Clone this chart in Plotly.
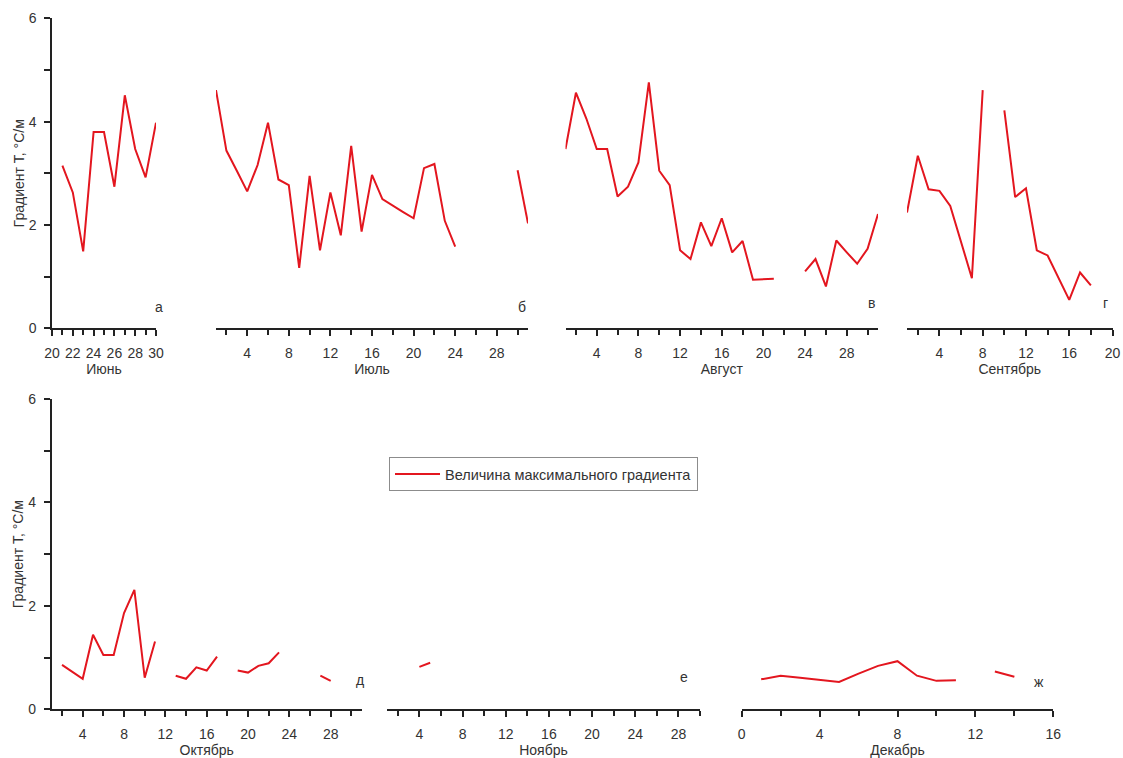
import plotly.graph_objects as go

# ---- data ----
jun_days = [21, 22, 23, 24, 25, 26, 27, 28, 29, 30]
jun_vals = [3.15, 2.63, 1.49, 3.80, 3.80, 2.74, 4.51, 3.47, 2.92, 3.98]

jul_days = list(range(1, 32))
jul_vals = [4.61, 3.44, 3.05, 2.65, 3.16, 3.98, 2.88, 2.77, 1.17, 2.95,
            1.51, 2.63, 1.80, 3.53, 1.87, 2.97, 2.50, 2.37, 2.25, 2.13,
            3.10, 3.18, 2.08, 1.58, None, None, None, None, None, 3.06, 2.03]

aug_days = list(range(1, 32))
aug_vals = [3.47, 4.56, 4.06, 3.47, 3.47, 2.55, 2.74, 3.21, 4.76, 3.05,
            2.77, 1.51, 1.34, 2.05, 1.59, 2.13, 1.47, 1.69, 0.94, 0.95,
            0.96, None, None, 1.10, 1.34, 0.81, 1.70, 1.47, 1.25, 1.54, 2.21]

sep_days = list(range(1, 19))
sep_vals = [2.24, 3.34, 2.69, 2.66, 2.37, 1.68, 0.97, 4.61, None, 4.22,
            2.54, 2.71, 1.51, 1.41, 0.97, 0.55, 1.08, 0.83]

oct_days = list(range(2, 29))
oct_vals = [0.86, 0.72, 0.59, 1.44, 1.05, 1.05, 1.86, 2.31, 0.61, 1.31,
            None, 0.65, 0.59, 0.81, 0.75, 1.02, None, 0.75, 0.71, 0.84,
            0.89, 1.10, None, None, None, 0.65, 0.55]

nov_days = [4, 5]
nov_vals = [0.82, 0.90]

dec_days = list(range(1, 15))
dec_vals = [0.58, 0.65, 0.61, 0.57, 0.53, 0.69, 0.84, 0.93, 0.65, 0.55,
            0.56, None, 0.73, 0.63]

months = ["Июнь", "Июль", "Август", "Сентябрь", "Октябрь", "Ноябрь", "Декабрь"]
letters = ["а", "б", "в", "г", "д", "е", "ж"]
y_title = "Градиент Т, °С/м"
legend_name = "Величина максимального градиента"

# ---- layout geometry (page pixels) ----
W, H = 1123, 758
FONT = "Liberation Sans, Arial, sans-serif"
FS = 14
TXT = "#333333"
RED = "#e3161f"
AX = "#222222"


def px(p):
    return p / W


def py(p):
    return 1 - p / H


panels = [
    # days, vals, px_left, px_right, range, dtick, minor, row
    (jun_days, jun_vals, 52, 156, [20, 30], 2, 1, 0),
    (jul_days, jul_vals, 216, 528, [1, 31], 4, 2, 0),
    (aug_days, aug_vals, 565.5, 878, [1, 31], 4, 2, 0),
    (sep_days, sep_vals, 907, 1112.5, [1, 20], 4, 2, 0),
    (oct_days, oct_vals, 51.7, 361.7, [1, 31], 4, 2, 1),
    (nov_days, nov_vals, 387, 700, [1, 30], 4, 2, 1),
    (dec_days, dec_vals, 741.7, 1053.3, [0, 16], 4, 2, 1),
]
row_px = [(18.3, 328.3), (399, 709.3)]

fig = go.Figure()
layout = dict(
    width=W, height=H,
    margin=dict(l=0, r=0, t=0, b=0, autoexpand=False),
    paper_bgcolor="white", plot_bgcolor="white",
    font=dict(family=FONT, size=FS, color=TXT),
    showlegend=True,
    legend=dict(x=px(389), y=py(457), xanchor="left", yanchor="top",
                bordercolor="#8c8c8c", borderwidth=1, bgcolor="white",
                font=dict(family=FONT, size=14.5, color=TXT),
                itemwidth=45, tracegroupgap=0),
)
annotations = []

for i, (days, vals, pl, pr, rng, dt, mdt, row) in enumerate(panels):
    k = "" if i == 0 else str(i + 1)
    xa, ya = "xaxis" + k, "yaxis" + k
    top, bot = row_px[row]
    first = i in (0, 4)
    fig.add_trace(go.Scatter(
        x=days, y=vals, mode="lines", connectgaps=False, cliponaxis=False,
        line=dict(color=RED, width=2),
        name=legend_name, showlegend=(i == 4),
        xaxis="x" + k, yaxis="y" + k,
    ))
    layout[xa] = dict(
        domain=[px(pl), px(pr)], range=rng, anchor="y" + k,
        showline=True, linecolor=AX, linewidth=1.5,
        ticks="outside", ticklen=6, tickwidth=1.5, tickcolor=AX,
        tick0=0, dtick=dt, showgrid=False, zeroline=False,
        ticklabelstandoff=5, automargin=False,
        minor=dict(dtick=mdt, tick0=0, ticks="outside", ticklen=5,
                   tickwidth=1.5, tickcolor=AX, showgrid=False),
        tickfont=dict(family=FONT, size=FS, color=TXT),
        title=dict(text=months[i], standoff=1,
                   font=dict(family=FONT, size=FS, color=TXT)),
    )
    layout[ya] = dict(
        domain=[py(bot), py(top)], range=[0, 6], anchor="x" + k,
        visible=first, showline=first, linecolor=AX, linewidth=1.5,
        ticks="outside", ticklen=6, tickwidth=1.5, tickcolor=AX,
        tick0=0, dtick=2, showgrid=False, zeroline=False,
        ticklabelstandoff=5, automargin=False,
        minor=dict(dtick=1, tick0=0, ticks="outside", ticklen=6,
                   tickwidth=1.5, tickcolor=AX, showgrid=False),
        tickfont=dict(family=FONT, size=FS, color=TXT),
        title=dict(text=y_title if first else "", standoff=1,
                   font=dict(family=FONT, size=FS, color=TXT)),
    )

letter_pos = [(153, 307), (522, 307), (877, 303), (1110, 303),
              (354, 690), (684, 687), (1046, 692)]
for t, (lx, ly) in zip(letters, letter_pos):
    annotations.append(dict(text=t, x=px(lx), y=py(ly), xref="paper",
                            yref="paper", showarrow=False,
                            font=dict(family=FONT, size=FS, color=TXT)))
layout["annotations"] = annotations
fig.update_layout(**layout)
fig.write_html("out.html")
